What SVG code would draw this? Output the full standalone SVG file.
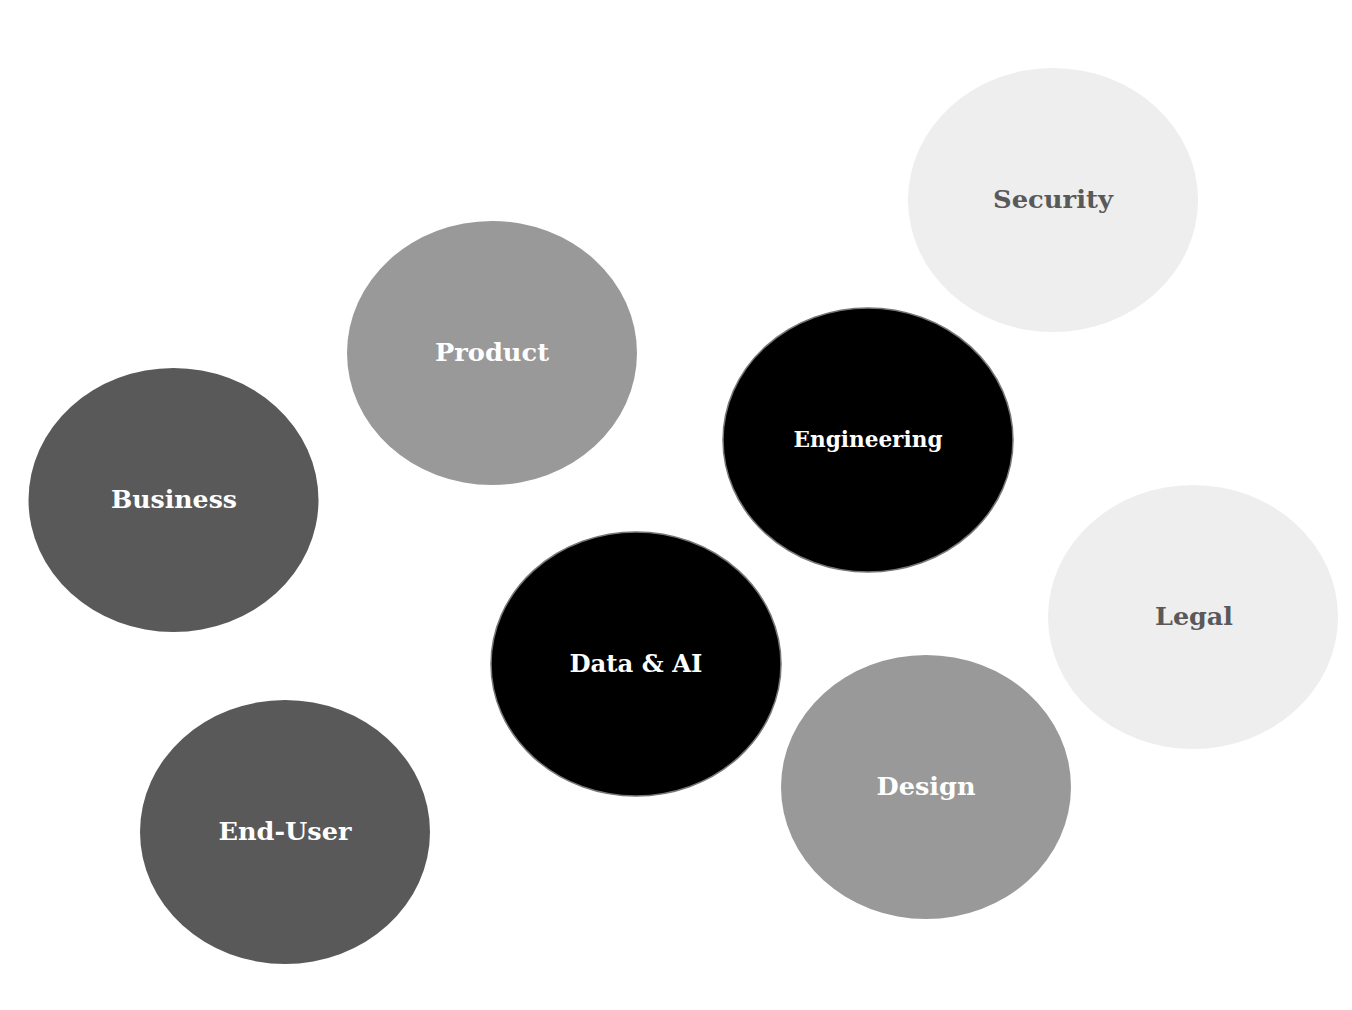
<svg xmlns="http://www.w3.org/2000/svg" width="1352" height="1010" viewBox="0 0 1352 1010">
<style>
.n text{font-family:"DejaVu Serif","Liberation Serif",serif;font-weight:bold;text-anchor:middle;}
.light ellipse{fill:#eeeeee;}
.light text{fill:#595959;font-size:25px;}
.mid ellipse{fill:#999999;}
.mid text{fill:#ffffff;font-size:25px;}
.dark ellipse{fill:#595959;}
.dark text{fill:#ffffff;font-size:25px;}
.black ellipse{fill:#000000;stroke:#777777;stroke-width:1.5;}
.black text{fill:#ffffff;font-size:25px;}
</style>
<rect width="1352" height="1010" fill="#ffffff"/>
<g id="connectors"></g>
<g id="security" class="n light"><ellipse cx="1053" cy="200" rx="145" ry="132"/><text x="1053" y="208" textLength="120" lengthAdjust="spacingAndGlyphs">Security</text></g>
<g id="product" class="n mid"><ellipse cx="492" cy="353" rx="145" ry="132"/><text x="492" y="361" textLength="114" lengthAdjust="spacingAndGlyphs">Product</text></g>
<g id="engineering" class="n black"><ellipse cx="868" cy="440" rx="145" ry="132"/><text x="868" y="447" style="font-size:22px" textLength="149" lengthAdjust="spacingAndGlyphs">Engineering</text></g>
<g id="business" class="n dark"><ellipse cx="173.5" cy="500" rx="145" ry="132"/><text x="174" y="508" textLength="126" lengthAdjust="spacingAndGlyphs">Business</text></g>
<g id="legal" class="n light"><ellipse cx="1193" cy="617" rx="145" ry="132"/><text x="1194" y="625" textLength="78" lengthAdjust="spacingAndGlyphs">Legal</text></g>
<g id="data-ai" class="n black"><ellipse cx="636" cy="664" rx="145" ry="132"/><text x="636" y="672" textLength="133" lengthAdjust="spacingAndGlyphs">Data &amp; AI</text></g>
<g id="design" class="n mid"><ellipse cx="926" cy="787" rx="145" ry="132"/><text x="926" y="795" textLength="99" lengthAdjust="spacingAndGlyphs">Design</text></g>
<g id="end-user" class="n dark"><ellipse cx="285" cy="832" rx="145" ry="132"/><text x="285" y="840" textLength="133" lengthAdjust="spacingAndGlyphs">End-User</text></g>
</svg>
